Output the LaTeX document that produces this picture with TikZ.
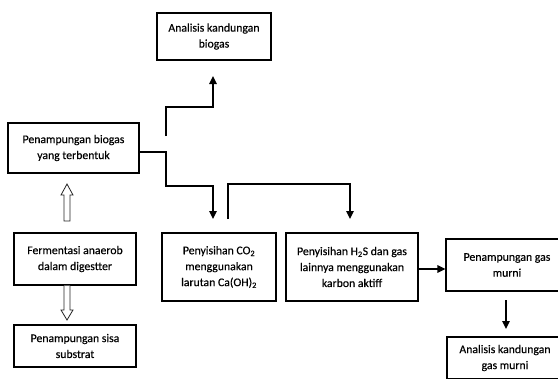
\documentclass[tikz,border=0pt]{standalone}
\usepackage{fontspec}
\setmainfont[FakeBold=0.35]{Carlito}
\usetikzlibrary{arrows.meta,calc}
\tikzset{
  box/.style={draw=black, line width=1.1bp, rectangle, inner sep=0pt, align=center,
    font=\fontsize{11.8}{16}\selectfont},
  conn/.style={draw=black, line width=1.4bp, -{Triangle[width=7.5bp,length=8bp]}},
  plain/.style={draw=black, line width=1.4bp},
  hollow/.style={draw=black!85, line width=0.8bp, fill=white, line join=miter}
}
\begin{document}
\begin{tikzpicture}[x=1bp,y=-1bp]
\useasboundingbox (0,0) rectangle (558,378);
\clip (0,0) rectangle (558,378);
% boxes
\node[box, minimum width=114bp, minimum height=47bp] (ab) at (214,36.5) {Analisis kandungan\\biogas};
\node[box, minimum width=131bp, minimum height=50bp] (pb) at (73.5,148) {Penampungan biogas\\yang terbentuk};
\node[box, minimum width=122bp, minimum height=52bp] (fa) at (75,259) {Fermentasi anaerob\\dalam digestter};
\node[box, minimum width=122bp, minimum height=42bp] (ps) at (75,346) {Penampungan sisa\\substrat};
\node[box, minimum width=114bp, minimum height=68bp] (co) at (219,267) {Penyisihan CO\textsubscript{2}\\menggunakan\\larutan Ca(OH)\textsubscript{2}};
\node[box, minimum width=132bp, minimum height=68bp] (hs) at (352,267) {Penyisihan H\textsubscript{2}S dan gas\\lainnya menggunakan\\karbon aktiff};
\node[box, minimum width=122bp, minimum height=52bp] (gm) at (507,265) {Penampungan gas\\murni};
\node[box, minimum width=116bp, minimum height=42bp] (ag) at (505,358) {Analisis kandungan\\gas murni};
% free ends
\coordinate (s1) at (166,136);
\coordinate (t1) at (213,76);
\coordinate (t2) at (213,219);
\coordinate (s3) at (228,219);
\coordinate (t3) at (350,219);
\coordinate (s5) at (506,300);
\coordinate (t5) at (506,329);
% connectors
\draw[conn] (s1) |- (190,107) -| (t1);
\draw[conn] ([yshift=-4bp]pb.east) -| (166,186) -| (t2);
\draw[conn] (s3) |- (290,184) -| (t3);
\draw[conn] ([yshift=-2bp]hs.east) -- ([yshift=-2bp]hs.east -| gm.west);
\draw[conn] (s5) -- (t5);
% hollow arrows
\draw[hollow] (64,221) -- (64,195) -- (61,195) -- (67,184) -- (73,195) -- (70,195) -- (70,221) -- cycle;
\draw[hollow] (64,285.5) -- (64,310) -- (61,310) -- (67,320) -- (73,310) -- (70,310) -- (70,285.5);
\end{tikzpicture}
\end{document}
